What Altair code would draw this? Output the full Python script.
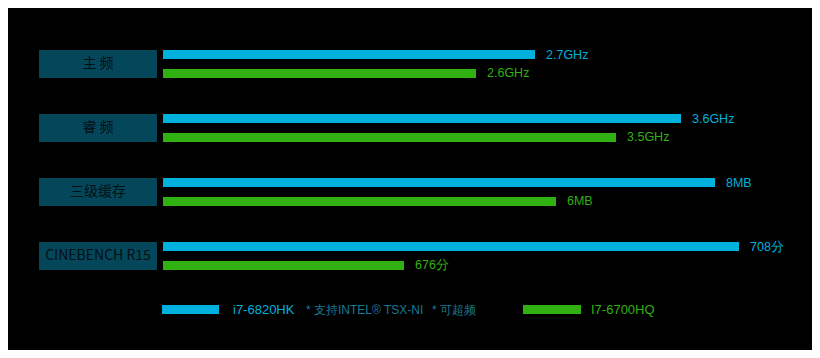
import altair as alt
import pandas as pd

categories = ["主 频", "睿 频", "三级缓存", "CINEBENCH R15"]
series = ["i7-6820HK", "I7-6700HQ"]
# relative bar lengths as drawn (display index, not raw values)
blue_len = [372, 518, 552, 576]
green_len = [313, 453, 393, 241]
blue_labels = ["2.7GHz", "3.6GHz", "8MB", "708分"]
green_labels = ["2.6GHz", "3.5GHz", "6MB", "676分"]
features = ["* 支持INTEL® TSX-NI", "* 可超频"]

BLUE = "#00b1dd"
GREEN = "#31b012"
BOX = "#05475a"

rows = []
for c, bl, gl, bt, gt in zip(categories, blue_len, green_len, blue_labels, green_labels):
    rows.append({"cat": c, "series": series[0], "len": bl, "label": bt})
    rows.append({"cat": c, "series": series[1], "len": gl, "label": gt})
df = pd.DataFrame(rows)
cat_df = pd.DataFrame({"cat": categories})
one = pd.DataFrame({"k": [0]})

yscale = alt.Scale(domain=categories, range=[42, 262], paddingInner=0.5625, paddingOuter=0)
yoff = alt.Scale(domain=series, paddingInner=0.526, paddingOuter=0)
xscale = alt.Scale(domain=[-155, 649], nice=False, zero=False)
cscale = alt.Scale(domain=series, range=[BLUE, GREEN])

Y = alt.Y("cat:N", scale=yscale, axis=None, sort=categories)
YO = alt.YOffset("series:N", scale=yoff, sort=series)

boxes = alt.Chart(cat_df).mark_rect(color=BOX).encode(
    y=Y, x=alt.value(31), x2=alt.value(149)
)
box_text = alt.Chart(cat_df).mark_text(
    font="Noto Sans CJK SC", fontSize=14, color="#020f14", align="center", baseline="middle"
).encode(y=Y, x=alt.value(90), text="cat:N")

bars = alt.Chart(df).mark_bar().encode(
    y=Y, yOffset=YO,
    x=alt.X("zero:Q", scale=xscale, axis=None),
    x2="len:Q",
    color=alt.Color("series:N", scale=cscale, legend=None),
).transform_calculate(zero="0")

labels = alt.Chart(df).mark_text(
    font="Liberation Sans", fontSize=12.5, align="left", baseline="middle", dx=11
).encode(
    y=Y, yOffset=YO,
    x=alt.X("len:Q", scale=xscale, axis=None),
    text="label:N",
    color=alt.Color("series:N", scale=cscale, legend=None),
)

leg_b = alt.Chart(one).mark_rect(color=BLUE).encode(
    x=alt.value(154), x2=alt.value(211), y=alt.value(297), y2=alt.value(306)
)
leg_g = alt.Chart(one).mark_rect(color=GREEN).encode(
    x=alt.value(515), x2=alt.value(573), y=alt.value(297), y2=alt.value(306)
)
def ltxt(text, x, color, size=13):
    return alt.Chart(one).mark_text(
        font="Liberation Sans", fontSize=size, fontWeight="normal",
        align="left", baseline="middle", color=color
    ).encode(x=alt.value(x), y=alt.value(302), text=alt.value(text))

leg_t1 = ltxt(series[0], 225, BLUE)
leg_t2 = ltxt(features[0], 298, "#177a96", 12)
leg_t3 = ltxt(features[1], 424, "#177a96", 12)
leg_t4 = ltxt(series[1], 583, GREEN)

chart = alt.layer(
    boxes, box_text, bars, labels, leg_b, leg_g, leg_t1, leg_t2, leg_t3, leg_t4
).properties(
    width=804, height=342, padding=0, autosize=alt.AutoSizeParams(type="none"),
    background="#000000",
    usermeta={"embedOptions": {"defaultStyle": "html,body{background:#000000 !important;}"}},
).configure_view(stroke=None)

chart.save("out.html", embed_options={"renderer": "svg", "actions": False})
